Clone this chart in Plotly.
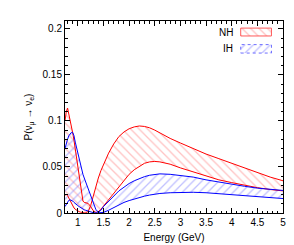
import plotly.graph_objects as go

# ---- data ----
energy = [0.75, 0.775, 0.8, 0.825, 0.85, 0.875, 0.9, 0.925, 0.95, 0.975,
          1.0, 1.025, 1.05, 1.075, 1.1, 1.125, 1.15, 1.2, 1.25, 1.3,
          1.35, 1.4, 1.45, 1.5, 1.6, 1.7, 1.8, 1.9, 2.0, 2.1,
          2.2, 2.3, 2.4, 2.5, 2.6, 2.8, 3.0, 3.25, 3.5, 3.75,
          4.0, 4.25, 4.5, 4.75, 5.0]

nh_a = [0.100, 0.110, 0.114, 0.108, 0.102, 0.095, 0.087, 0.079, 0.070, 0.062,
        0.053, 0.044, 0.035, 0.024, 0.013, 0.0115, 0.011, 0.0105, 0.007, 0.0025,
        0.0005, 0.0015, 0.004, 0.0075, 0.015, 0.022, 0.029, 0.036, 0.042, 0.047,
        0.051, 0.054, 0.0555, 0.056, 0.0555, 0.053, 0.049, 0.0445, 0.040, 0.036,
        0.033, 0.030, 0.0275, 0.0255, 0.024]

nh_b = [0.0195, 0.020, 0.019, 0.016, 0.013, 0.010, 0.0075, 0.0055, 0.004, 0.003,
        0.002, 0.0015, 0.001, 0.0005, 0.0003, 0.0002, 0.0003, 0.0015, 0.008, 0.019,
        0.029, 0.038, 0.046, 0.053, 0.065, 0.075, 0.083, 0.088, 0.0915, 0.0935,
        0.0945, 0.094, 0.0925, 0.090, 0.087, 0.081, 0.076, 0.070, 0.064, 0.059,
        0.054, 0.049, 0.044, 0.039, 0.035]

ih_a = [0.070, 0.076, 0.080, 0.084, 0.086, 0.0875, 0.0875, 0.084, 0.077, 0.071,
        0.064, 0.058, 0.052, 0.047, 0.042, 0.038, 0.034, 0.026, 0.018, 0.010,
        0.004, 0.0008, 0.003, 0.007, 0.013, 0.019, 0.024, 0.028, 0.032, 0.035,
        0.0375, 0.0395, 0.041, 0.042, 0.0425, 0.042, 0.041, 0.039, 0.036, 0.0335,
        0.031, 0.029, 0.027, 0.0255, 0.0245]

ih_b = [0.007, 0.0095, 0.012, 0.0138, 0.0143, 0.014, 0.013, 0.0115, 0.010, 0.009,
        0.008, 0.007, 0.006, 0.005, 0.004, 0.0035, 0.003, 0.002, 0.001, 0.0004,
        0.0001, 0.0, 0.0001, 0.0006, 0.003, 0.006, 0.0093, 0.0115, 0.0135, 0.0153,
        0.017, 0.0183, 0.0195, 0.0205, 0.0212, 0.022, 0.0225, 0.0225, 0.022, 0.021,
        0.020, 0.019, 0.018, 0.017, 0.0157]

labels = ["NH", "IH"]

# ---- styles ----
RED = "rgb(255,0,0)"
BLUE = "rgb(0,0,255)"
RED_HATCH = "rgb(255,135,135)"
BLUE_HATCH = "rgb(130,130,255)"
FONT = "Liberation Sans, Arial, sans-serif"
HATCH_SIZE = 6
HATCH_SOLID = 0.22

fig = go.Figure()

def band(x, y1, y2, hatch, shape):
    return go.Scatter(
        x=list(x) + list(x)[::-1], y=list(y1) + list(y2)[::-1],
        mode="none", fill="toself", fillcolor="rgba(0,0,0,0)",
        fillpattern=dict(shape=shape, fgcolor=hatch, bgcolor="rgba(0,0,0,0)",
                         size=HATCH_SIZE, solidity=HATCH_SOLID),
        hoverinfo="skip", showlegend=False)

fig.add_trace(band(energy, nh_a, nh_b, RED_HATCH, "\\"))
fig.add_trace(band(energy, ih_a, ih_b, BLUE_HATCH, "/"))

for ys, col in [(nh_a, RED), (nh_b, RED), (ih_a, BLUE), (ih_b, BLUE)]:
    fig.add_trace(go.Scatter(x=energy, y=ys, mode="lines",
                             line=dict(color=col, width=1), showlegend=False))

# ---- legend keys (overlay axes in plot-area fractions) ----
key_x = (0.806, 0.947)
key_rows = [(0.922, 0.963), (0.833, 0.877)]
key_styles = [(RED_HATCH, "\\", "rgb(255,90,90)", "solid"),
              (BLUE_HATCH, "/", "rgb(110,110,255)", "dot")]
for (y0, y1), (hc, sh, bc, dash), lab in zip(key_rows, key_styles, labels):
    fig.add_trace(go.Scatter(
        x=[key_x[0], key_x[1], key_x[1], key_x[0], key_x[0]],
        y=[y0, y0, y1, y1, y0], xaxis="x2", yaxis="y2",
        mode="lines", fill="toself", fillcolor="rgba(0,0,0,0)",
        line=dict(color=bc, width=1, dash=dash),
        fillpattern=dict(shape=sh, fgcolor=hc, bgcolor="rgba(0,0,0,0)",
                         size=HATCH_SIZE, solidity=HATCH_SOLID),
        hoverinfo="skip", showlegend=False))
    fig.add_annotation(x=0.78, y=(y0 + y1) / 2, xref="paper", yref="paper",
                       text=lab, showarrow=False, xanchor="right",
                       yanchor="middle", font=dict(size=10, color="black", family=FONT))

axis_common = dict(showgrid=False, zeroline=False, showline=True,
                   linecolor="black", linewidth=1, mirror="ticks",
                   ticks="inside", ticklen=5, tickcolor="black",
                   tickfont=dict(size=10, color="black", family=FONT))

fig.update_layout(
    width=294, height=245,
    margin=dict(l=57, r=19, t=13, b=33),
    paper_bgcolor="white", plot_bgcolor="white",
    font=dict(family=FONT, size=10, color="black"),
    xaxis=dict(range=[0.75, 5], dtick=0.5, tick0=0,
               minor=dict(dtick=0.1, ticks="inside", ticklen=2.5, tickcolor="black"),
               title=dict(text="Energy (GeV)", standoff=6,
                          font=dict(size=10, family=FONT, color="black")),
               **axis_common),
    yaxis=dict(range=[0, 0.2085], dtick=0.05, tick0=0,
               minor=dict(dtick=0.01, ticks="inside", ticklen=2.5, tickcolor="black"),
               title=dict(text="P(ν<sub>μ</sub> → ν<sub>e</sub>)", standoff=8,
                          font=dict(size=10, family=FONT, color="black")),
               **axis_common),
    xaxis2=dict(range=[0, 1], overlaying="x", visible=False, fixedrange=True),
    yaxis2=dict(range=[0, 1], overlaying="y", visible=False, fixedrange=True),
    showlegend=False,
)

fig.write_html("out.html")
